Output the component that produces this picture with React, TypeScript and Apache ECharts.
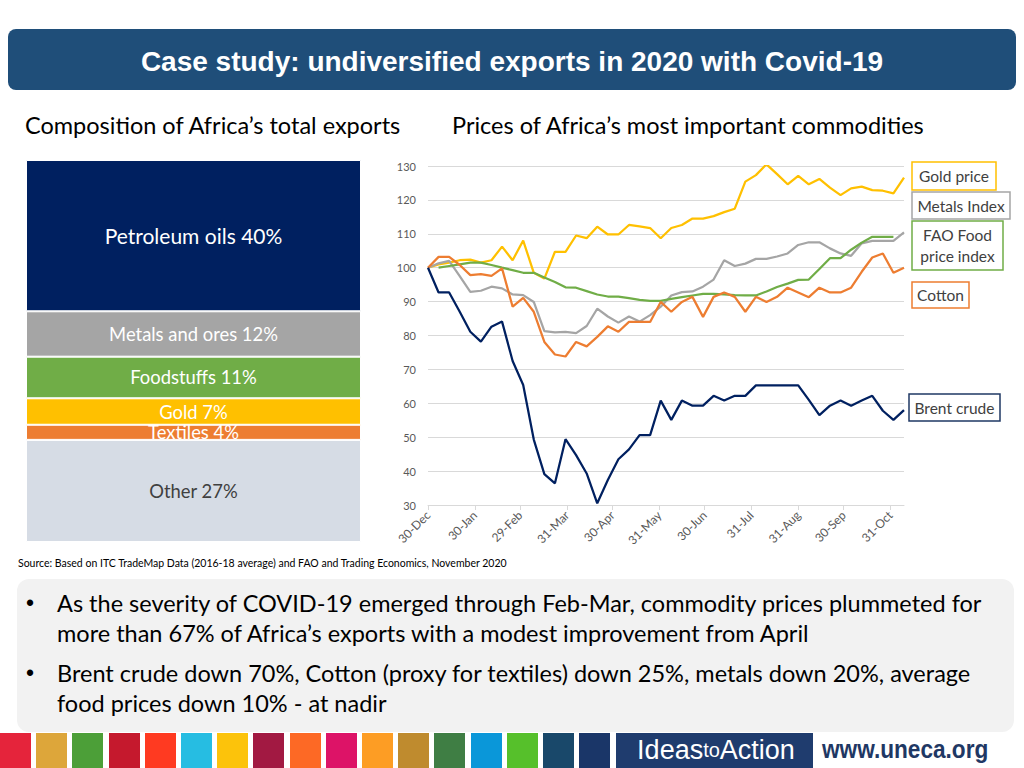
import { useEffect, useRef } from "react";
import * as echarts from "echarts";

// ---------- Data ----------
const weeks = [
  "2019-12-30", "2020-01-06", "2020-01-13", "2020-01-20", "2020-01-27",
  "2020-02-03", "2020-02-10", "2020-02-17", "2020-02-24", "2020-03-02",
  "2020-03-09", "2020-03-16", "2020-03-23", "2020-03-30", "2020-04-06",
  "2020-04-13", "2020-04-20", "2020-04-27", "2020-05-04", "2020-05-11",
  "2020-05-18", "2020-05-25", "2020-06-01", "2020-06-08", "2020-06-15",
  "2020-06-22", "2020-06-29", "2020-07-06", "2020-07-13", "2020-07-20",
  "2020-07-27", "2020-08-03", "2020-08-10", "2020-08-17", "2020-08-24",
  "2020-08-31", "2020-09-07", "2020-09-14", "2020-09-21", "2020-09-28",
  "2020-10-05", "2020-10-12", "2020-10-19", "2020-10-26", "2020-11-02",
  "2020-11-09",
];

const goldPrice = [
  100, 101, 101.5, 102.2, 102.4, 101.5, 102.2, 106.2, 102.2, 108,
  98.5, 96.8, 104.7, 104.7, 109.5, 108.7, 112.1, 109.8, 109.8, 112.6,
  112.2, 111.7, 108.7, 111.7, 112.6, 114.5, 114.5, 115.2, 116.4, 117.4,
  125.4, 127.3, 130.5, 127.6, 124.6, 127.1, 124.6, 126.2, 123.6, 121.4,
  123.4, 123.9, 122.9, 122.7, 121.9, 126.6,
];

const metalsIndex = [
  100, 101.3, 102, 97.5, 92.9, 93.2, 94.4, 93.9, 92.1, 91.9,
  89.9, 81.3, 80.9, 81.1, 80.7, 82.8, 87.9, 85.6, 83.8, 85.6,
  84.1, 86, 88.5, 91.8, 92.8, 93, 94.4, 96.5, 102.2, 100.5,
  101.2, 102.6, 102.6, 103.3, 104.2, 106.7, 107.5, 107.5, 105.7, 104.2,
  103.5, 107.2, 107.9, 107.9, 107.9, 110.4,
];

const faoFoodIndex = [
  null, 100, 100.5, 101, 101.5, 101.5, 100.8, 100, 99.3, 98.5,
  98.5, 97.1, 95.8, 94.2, 94.1, 93.1, 92.1, 91.5, 91.5, 91,
  90.5, 90.2, 90.2, 90.8, 91.3, 91.8, 92.3, 92.3, 92.1, 91.9,
  91.8, 91.8, 93, 94.3, 95.3, 96.4, 96.5, 99.6, 102.8, 102.8,
  105.3, 107.4, 109.1, 109.1, 109.1, null,
];

const cottonPrice = [
  100, 103.2, 103.2, 100.8, 97.8, 98.1, 97.6, 99.8, 88.5, 91.1,
  87, 78.1, 74.4, 73.8, 78.1, 76.8, 79.6, 82.7, 81.1, 84,
  84, 84, 89.9, 87, 89.9, 91.4, 85.5, 91.4, 92.7, 91.4,
  87, 91.4, 89.9, 91.4, 94.1, 92.7, 91.3, 94.1, 92.7, 92.7,
  94.1, 98.8, 103, 104.2, 98.5, 100,
];

const brentCrude = [
  100, 92.7, 92.7, 87, 81.1, 78.2, 82.6, 84.1, 72.5, 65.4,
  49.3, 39.1, 36.4, 49.4, 44.7, 39.3, 30.5, 37.4, 43.5, 46.4,
  50.6, 50.6, 60.8, 55.1, 60.8, 59.3, 59.3, 62.2, 60.8, 62.2,
  62.2, 65.3, 65.3, 65.3, 65.3, 65.3, 61, 56.5, 59.3, 60.8,
  59.3, 60.8, 62.2, 57.8, 55.1, 58,
];

const axisTickDates = [
  "2019-12-30", "2020-01-30", "2020-02-29", "2020-03-31", "2020-04-30",
  "2020-05-31", "2020-06-30", "2020-07-31", "2020-08-31", "2020-09-30",
  "2020-10-31",
];
const monthNames = ["Jan", "Feb", "Mar", "Apr", "May", "Jun", "Jul", "Aug", "Sep", "Oct", "Nov", "Dec"];

const yMin = 30;
const yMax = 130;
const yInterval = 10;

const exportCategories = ["Petroleum oils", "Metals and ores", "Foodstuffs", "Gold", "Textiles", "Other"];
const exportShares = [40, 12, 11, 7, 4, 27];

const seriesNames = ["Gold price", "Metals Index", "FAO Food price index", "Cotton", "Brent crude"];

const titleText = "Case study: undiversified exports in 2020 with Covid-19";
const leftHeading = "Composition of Africa\u2019s total exports";
const rightHeading = "Prices of Africa\u2019s most important commodities";
const sourceText =
  "Source: Based on ITC TradeMap Data (2016-18 average) and FAO and Trading Economics, November 2020";
const bullet1 = [
  "As the severity of COVID-19 emerged through Feb-Mar, commodity prices plummeted for",
  "more than 67% of Africa\u2019s exports with a modest improvement from April",
];
const bullet2 = [
  "Brent crude down 70%, Cotton (proxy for textiles) down 25%, metals down 20%, average",
  "food prices down 10% - at nadir",
];

// ---------- Styles ----------
const BODY_FONT = "Lato, 'Open Sans', sans-serif";
const HEAD_FONT = "'Liberation Sans', Arial, sans-serif";
const exportColors = ["#002060", "#a5a5a5", "#70ad47", "#ffc000", "#ed7d31", "#d6dce5"];
const lineColors = ["#ffc000", "#a5a5a5", "#70ad47", "#ed7d31", "#002060"];
const sdgColors = [
  "#e5243b", "#dda63a", "#4c9f38", "#c5192d", "#ff3a21", "#26bde2", "#fcc30b",
  "#a21942", "#fd6925", "#dd1367", "#fd9d24", "#bf8b2e", "#3f7e44", "#0a97d9",
  "#56c02b", "#19486a", "#1a3668",
];

const DAY = 86400000;
const toTs = (s: string) => {
  const [y, m, d] = s.split("-").map(Number);
  return Date.UTC(y, m - 1, d);
};
const baseTs = toTs(weeks[0]);
const toDay = (s: string) => Math.round((toTs(s) - baseTs) / DAY);

function buildOption() {
  const seriesValues = [goldPrice, metalsIndex, faoFoodIndex, cottonPrice, brentCrude];

  const lineSeries = seriesValues.map((vals, k) => ({
    type: "line",
    name: seriesNames[k],
    xAxisIndex: 1,
    yAxisIndex: 1,
    showSymbol: false,
    symbol: "none",
    smooth: false,
    lineStyle: { width: 2.25, color: lineColors[k] },
    itemStyle: { color: lineColors[k] },
    z: k === 4 ? 5 : 3,
    data: weeks
      .map((w, i) => [toDay(w), vals[i]])
      .filter((p) => p[1] !== null && p[1] !== undefined),
  }));

  const barSeries = exportCategories.map((name, k) => ({
    type: "bar",
    name,
    stack: "exports",
    xAxisIndex: 0,
    yAxisIndex: 0,
    barWidth: "100%",
    itemStyle: { color: exportColors[k], borderColor: "#ffffff", borderWidth: 1 },
    label: {
      show: true,
      position: "inside",
      formatter: () => `${name} ${exportShares[k]}%`,
      color: k === 5 ? "#404040" : "#ffffff",
      fontSize: k === 0 ? 21 : 18.4,
      fontFamily: BODY_FONT,
    },
    data: [exportShares[k]],
  }));

  const tickVals = axisTickDates.map(toDay);

  const legendBoxes = [
    { x: 912, y: 162, w: 84, h: 28, color: lineColors[0], lines: ["Gold price"] },
    { x: 912, y: 192, w: 98, h: 27, color: lineColors[1], lines: ["Metals Index"] },
    { x: 912, y: 221, w: 91, h: 49, color: lineColors[2], lines: ["FAO Food", "price index"] },
    { x: 912, y: 282, w: 57, h: 26, color: lineColors[3], lines: ["Cotton"] },
    { x: 909, y: 394, w: 91, h: 27, color: "#1f3864", lines: ["Brent crude"] },
  ];

  const graphics: any[] = [];
  graphics.push({
    type: "rect",
    shape: { x: 8, y: 29, width: 1008, height: 61, r: 8 },
    style: { fill: "#1f4e79" },
  });
  graphics.push({
    type: "text",
    x: 512,
    y: 61,
    style: {
      text: titleText,
      fill: "#ffffff",
      fontSize: 28,
      fontWeight: "bold",
      fontFamily: HEAD_FONT,
      textAlign: "center",
      textVerticalAlign: "middle",
    },
  });
  graphics.push({
    type: "text",
    x: 25,
    y: 125,
    style: {
      text: leftHeading, fill: "#000", fontSize: 23.5, fontFamily: BODY_FONT,
      textVerticalAlign: "middle",
    },
  });
  graphics.push({
    type: "text",
    x: 452,
    y: 125,
    style: {
      text: rightHeading, fill: "#000", fontSize: 23.5, fontFamily: BODY_FONT,
      textVerticalAlign: "middle",
    },
  });
  graphics.push({
    type: "text",
    x: 18,
    y: 563,
    style: {
      text: sourceText, fill: "#000", fontSize: 10.5, fontFamily: BODY_FONT,
      textVerticalAlign: "middle",
    },
  });
  graphics.push({
    type: "rect",
    shape: { x: 17, y: 579, width: 997, height: 153, r: 12 },
    style: { fill: "#f2f2f2" },
  });
  const bulletRows = [
    { y: 603, text: bullet1[0], dot: true },
    { y: 633, text: bullet1[1], dot: false },
    { y: 673, text: bullet2[0], dot: true },
    { y: 703, text: bullet2[1], dot: false },
  ];
  bulletRows.forEach((r) => {
    if (r.dot) {
      graphics.push({
        type: "text",
        x: 26,
        y: r.y,
        style: {
          text: "\u2022", fill: "#000", fontSize: 23, fontFamily: "Arial, sans-serif",
          textVerticalAlign: "middle",
        },
      });
    }
    graphics.push({
      type: "text",
      x: 57,
      y: r.y,
      style: {
        text: r.text, fill: "#000", fontSize: 23.5, fontFamily: BODY_FONT,
        textVerticalAlign: "middle",
      },
    });
  });
  legendBoxes.forEach((b) => {
    graphics.push({
      type: "rect",
      shape: { x: b.x, y: b.y, width: b.w, height: b.h },
      style: { fill: "#ffffff", stroke: b.color, lineWidth: 1.5 },
      z: 10,
    });
    b.lines.forEach((t, j) => {
      const n = b.lines.length;
      const cy = b.y + b.h / 2 + (j - (n - 1) / 2) * 21;
      graphics.push({
        type: "text",
        x: b.x + b.w / 2,
        y: cy,
        z: 11,
        style: {
          text: t, fill: "#404040", fontSize: 15.5, fontFamily: BODY_FONT,
          textAlign: "center",
          textVerticalAlign: "middle",
        },
      });
    });
  });
  sdgColors.forEach((c, i) => {
    graphics.push({
      type: "rect",
      shape: { x: Math.round(i * 36.2), y: 733, width: 31, height: 35 },
      style: { fill: c },
    });
  });
  graphics.push({
    type: "rect",
    shape: { x: 616, y: 733, width: 197, height: 35 },
    style: { fill: "#1f3c6e" },
  });
  graphics.push({
    type: "text",
    x: 716,
    y: 750,
    z: 5,
    style: {
      text: "{a|Ideas}{b|to}{a|Action}",
      fill: "#ffffff",
      textAlign: "center",
      textVerticalAlign: "middle",
      rich: {
        a: { fontSize: 27, fill: "#ffffff", color: "#ffffff", fontFamily: HEAD_FONT },
        b: { fontSize: 20, fill: "#ffffff", color: "#ffffff", fontFamily: HEAD_FONT },
      },
    },
  });
  graphics.push({
    type: "text",
    x: 822,
    y: 749,
    scaleX: 0.87,
    style: {
      text: "www.uneca.org",
      fill: "#1f3864",
      fontSize: 26,
      fontWeight: "bold",
      fontFamily: HEAD_FONT,
      textVerticalAlign: "middle",
    },
  });

  return {
    animation: false,
    backgroundColor: "#ffffff",
    textStyle: { fontFamily: BODY_FONT },
    grid: [
      { left: 26, top: 160, width: 335, height: 382, containLabel: false },
      { left: 428, top: 166, width: 476, height: 339, containLabel: false },
    ],
    xAxis: [
      {
        type: "category",
        gridIndex: 0,
        data: ["Exports"],
        show: false,
      },
      {
        type: "value",
        gridIndex: 1,
        min: 0,
        max: toDay(weeks[weeks.length - 1]),
        axisLine: { show: true, lineStyle: { color: "#d9d9d9", width: 1 } },
        axisTick: {
          show: true,
          customValues: tickVals,
          length: 5,
          lineStyle: { color: "#d9d9d9" },
        },
        axisLabel: {
          customValues: tickVals,
          rotate: 45,
          color: "#595959",
          fontSize: 12,
          margin: 8,
          fontFamily: BODY_FONT,
          formatter: (v: number) => {
            const d = new Date(baseTs + v * DAY);
            return `${d.getUTCDate()}-${monthNames[d.getUTCMonth()]}`;
          },
        },
        splitLine: { show: false },
      },
    ],
    yAxis: [
      {
        type: "value",
        gridIndex: 0,
        min: 0,
        max: 101,
        inverse: true,
        show: false,
      },
      {
        type: "value",
        gridIndex: 1,
        min: yMin,
        max: yMax,
        interval: yInterval,
        axisLine: { show: false },
        axisTick: { show: false },
        axisLabel: { color: "#595959", fontSize: 11, margin: 12, fontFamily: BODY_FONT },
        splitLine: { show: true, lineStyle: { color: "#d9d9d9", width: 1 } },
      },
    ],
    series: [...barSeries, ...lineSeries],
    graphic: { elements: graphics },
  };
}

export default function App() {
  const ref = useRef<HTMLDivElement>(null);
  useEffect(() => {
    if (!ref.current) return;
    const chart = echarts.init(ref.current, undefined, { renderer: "svg" });
    chart.setOption(buildOption() as any);
    return () => chart.dispose();
  }, []);
  return (
    <div
      ref={ref}
      style={{ position: "absolute", left: 0, top: 0, width: 1024, height: 768 }}
    />
  );
}
